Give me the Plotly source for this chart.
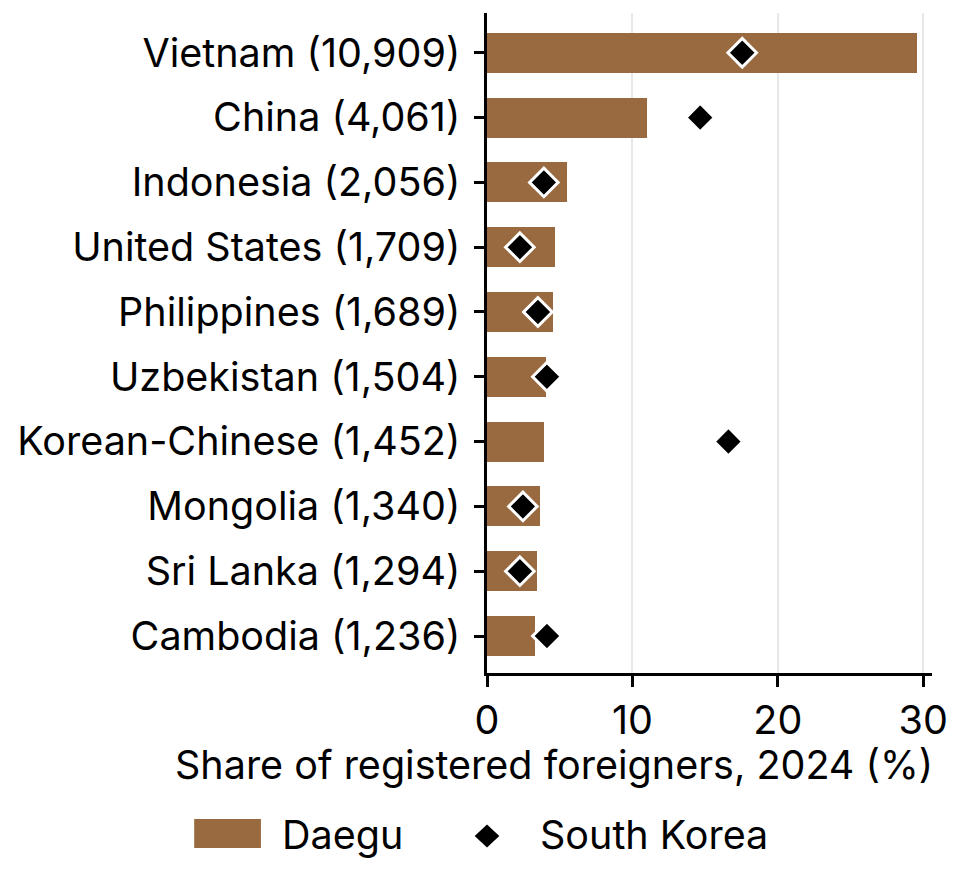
import plotly.graph_objects as go

# data
countries = ["Vietnam", "China", "Indonesia", "United States", "Philippines",
             "Uzbekistan", "Korean-Chinese", "Mongolia", "Sri Lanka", "Cambodia"]
counts = ["10,909", "4,061", "2,056", "1,709", "1,689",
          "1,504", "1,452", "1,340", "1,294", "1,236"]
daegu_share = [29.6, 11.0, 5.5, 4.65, 4.55, 4.07, 3.94, 3.66, 3.46, 3.32]
korea_share = [17.55, 14.66, 3.91, 2.26, 3.5, 4.12, 16.6, 2.47, 2.26, 4.12]
x_ticks = [0, 10, 20, 30]

labels = [f"{c} ({n})" for c, n in zip(countries, counts)]

BROWN = "#996A3F"
FONT = "Inter"
FS = 39.5

fig = go.Figure()
fig.add_trace(go.Bar(
    x=daegu_share, y=labels, orientation="h",
    marker=dict(color=BROWN, line=dict(width=0)),
    width=0.62, name="Daegu", showlegend=False,
))
fig.add_trace(go.Scatter(
    x=korea_share, y=labels, mode="markers",
    marker=dict(symbol="diamond", size=22, color="black",
                line=dict(color="white", width=3)),
    name="South Korea", showlegend=False,
))

fig.update_xaxes(
    range=[0, 30.6], tickvals=x_ticks,
    showline=True, linecolor="black", linewidth=2.5,
    ticks="outside", ticklen=11, tickwidth=2.5, tickcolor="black",
    showgrid=True, gridcolor="rgba(190,190,190,0.35)", gridwidth=1.5,
    zeroline=False, layer="above traces",
    tickfont=dict(family=FONT, size=FS, color="black"),
)
fig.update_yaxes(
    type="category", categoryorder="array", categoryarray=labels,
    range=[9.571, -0.614],
    showline=True, linecolor="black", linewidth=2.5,
    ticks="outside", ticklen=10, tickwidth=2.5, tickcolor="black",
    showgrid=False, zeroline=False,
    tickfont=dict(family=FONT, size=FS, color="black"),
    ticklabelstandoff=6,
)

# axis title, right-aligned with the plot
fig.add_annotation(
    text="Share of registered foreigners, 2024 (%)",
    xref="paper", yref="paper", x=1.007, y=-0.14,
    xanchor="right", yanchor="middle", showarrow=False,
    font=dict(family=FONT, size=FS, color="black"),
)

# hand-made legend below the chart
fig.add_shape(type="rect", xref="paper", yref="paper",
              x0=-0.658, x1=-0.508, y0=-0.2652, y1=-0.2212,
              fillcolor=BROWN, line=dict(width=0))
fig.add_annotation(text="Daegu", xref="paper", yref="paper",
                   x=-0.465, y=-0.245, xanchor="left", yanchor="middle",
                   showarrow=False, font=dict(family=FONT, size=FS, color="black"))
fig.add_shape(type="path", xref="paper", yref="paper",
              path="M 0 -0.2296 L 0.0277 -0.247 L 0 -0.2644 L -0.0277 -0.247 Z",
              fillcolor="black", line=dict(width=0))
fig.add_annotation(text="South Korea", xref="paper", yref="paper",
                   x=0.1146, y=-0.245, xanchor="left", yanchor="middle",
                   showarrow=False, font=dict(family=FONT, size=FS, color="black"))

fig.update_layout(
    width=962, height=872,
    margin=dict(l=479, r=38, t=5, b=207),
    plot_bgcolor="white", paper_bgcolor="white",
    font=dict(family=FONT, size=FS, color="black"),
    bargap=0,
)

fig.write_html("out.html")
